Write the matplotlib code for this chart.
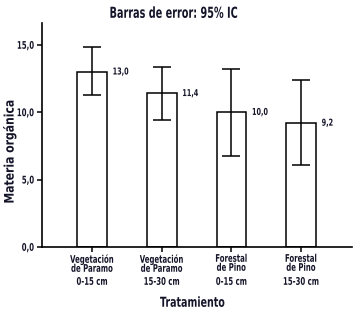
import matplotlib
matplotlib.use("Agg")
import matplotlib.pyplot as plt
from matplotlib.ticker import FuncFormatter
from matplotlib.patheffects import AbstractPathEffect
from matplotlib.transforms import Affine2D
import matplotlib.transforms as mtransforms

plt.rcParams['font.family'] = ['DejaVu Sans']


class Tall(AbstractPathEffect):
    """Stretch glyphs perpendicular to the baseline (text drawn at a smaller
    size keeps its true width, so the result looks like a condensed face)."""
    def __init__(self, sy=1.5):
        super().__init__()
        self.sy = sy

    def draw_path(self, renderer, gc, tpath, affine, rgbFace=None):
        c = 36.5  # half the cap height in text-path units (FONT_SCALE = 100)
        t = Affine2D().translate(0, -c).scale(1, self.sy).translate(0, c) + affine
        renderer.draw_path(gc, tpath, t, rgbFace)


categories = ["Vegetación\nde Paramo", "Vegetación\nde Paramo", "Forestal\nde Pino", "Forestal\nde Pino"]
depths = ["0-15 cm", "15-30 cm", "0-15 cm", "15-30 cm"]
means = [13.0, 11.4, 10.0, 9.2]
ci_low = [11.25, 9.43, 6.79, 6.10]
ci_high = [14.83, 13.33, 13.18, 12.39]
value_labels = ["13,0", "11,4", "10,0", "9,2"]
yticks = [0.0, 5.0, 10.0, 15.0]

TXT = '#15152a'

fig = plt.figure(figsize=(3.63, 3.18), dpi=100)
ax = fig.add_axes([42/363, 1-247/318, (352-42)/363, (247-23)/318])

x = list(range(len(means)))
yerr = [[m - l for m, l in zip(means, ci_low)], [h - m for m, h in zip(means, ci_high)]]
ax.bar(x, means, width=0.43, color='white', edgecolor='black', linewidth=1.1, zorder=2)
ax.errorbar(x, means, yerr=yerr, fmt='none', ecolor='black', elinewidth=1.1,
            capsize=6.5, capthick=1.1, zorder=3)

for xi, m, lab in zip(x, means, value_labels):
    t = ax.annotate(lab, xy=(xi + 0.215, m), xytext=(4, 0), textcoords='offset points',
                    ha='left', va='center', fontsize=4.65, color=TXT, fontweight='bold')
    t.set_path_effects([Tall(1.47)])

ax.set_xlim(-0.72, 3.73)
ax.set_ylim(0, 16.63)
ax.set_yticks(yticks)
ax.yaxis.set_major_formatter(FuncFormatter(lambda v, p: f"{v:.1f}".replace('.', ',')))
ax.set_xticks(x)
ax.set_xticklabels(categories, fontsize=5.0, fontweight='bold', linespacing=1.6, color=TXT)
for lab in ax.get_xticklabels():
    lab.set_path_effects([Tall(1.52)])
for lab in ax.get_yticklabels():
    lab.set_fontsize(5.0)
    lab.set_fontweight('bold')
    lab.set_color(TXT)
    lab.set_path_effects([Tall(1.52)])

trans = mtransforms.blended_transform_factory(ax.transData, fig.transFigure)
for xi, d in zip(x, depths):
    t = ax.text(xi, 1 - 281.5/318, d, transform=trans, ha='center', va='center',
                fontsize=5.0, fontweight='bold', color=TXT)
    t.set_path_effects([Tall(1.52)])

for s in ['top', 'right']:
    ax.spines[s].set_visible(False)
for s in ['left', 'bottom']:
    ax.spines[s].set_linewidth(1.2)
ax.tick_params(axis='both', direction='out', length=3.6, width=1.1, pad=2)
ax.tick_params(axis='x', pad=2.5)

t = fig.text(173/363, 1 - 12.8/318, "Barras de error: 95% IC", ha='center', va='center',
             fontsize=6.98, fontweight='bold', color=TXT)
t.set_path_effects([Tall(1.56)])
t = fig.text(192.5/363, 1 - 302.7/318, "Tratamiento", ha='center', va='center',
             fontsize=6.83, fontweight='bold', color=TXT)
t.set_path_effects([Tall(1.45)])
t = fig.text(9.5/363, 1 - 151.5/318, "Materia orgánica", ha='center', va='center',
             rotation=90, fontsize=7.8, fontweight='bold', color=TXT)
t.set_path_effects([Tall(1.22)])

fig.savefig("out.png", dpi=100)
